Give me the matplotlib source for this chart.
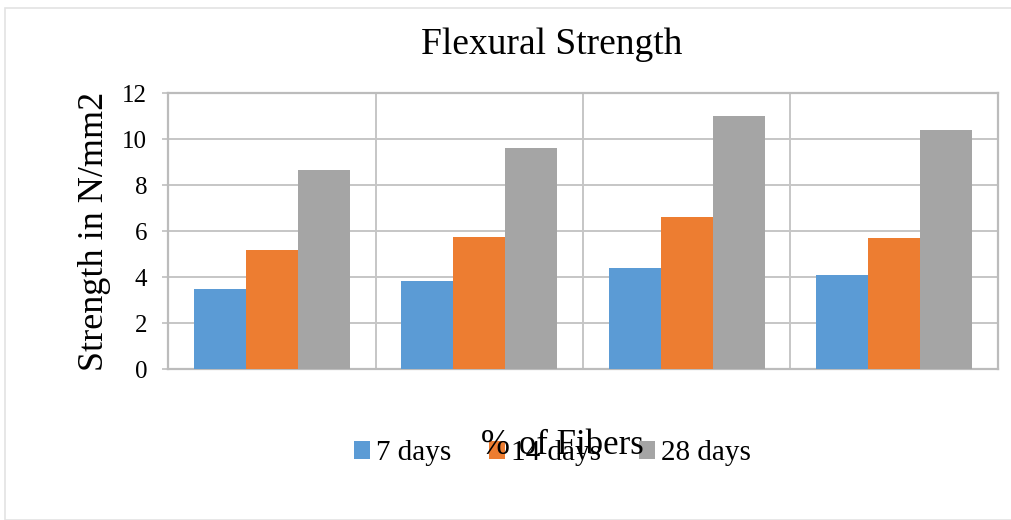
import numpy as np
import matplotlib
matplotlib.use('Agg')
import matplotlib.pyplot as plt
from matplotlib.patches import Rectangle

plt.rcParams['font.family'] = ['Liberation Serif', 'DejaVu Serif']

groups = ['0.5%', '1.0%', '1.5%', '2.0%']
series = ['7 days', '14 days', '28 days']
day7 = [3.5, 3.82, 4.37, 4.1]
day14 = [5.17, 5.75, 6.62, 5.68]
day28 = [8.67, 9.6, 10.98, 10.4]
colors = ['#5B9BD5', '#ED7D31', '#A5A5A5']
yticks = [0, 2, 4, 6, 8, 10, 12]

fig = plt.figure(figsize=(10.11, 5.2), dpi=100)
ax = fig.add_axes([168 / 1011, 1 - 369 / 520, 830 / 1011, 276 / 520])

# outer chart frame
fig.patches.append(Rectangle((5 / 1011, 0), 1.0, 1 - 8 / 520,
                             transform=fig.transFigure, fill=False,
                             edgecolor='#e3e3e3', linewidth=1.2))

x = np.arange(len(groups))
w = 0.25
for i, (vals, name) in enumerate(zip([day7, day14, day28], series)):
    ax.bar(x + (i - 1) * w, vals, width=w, color=colors[i], label=name, zorder=3)

ax.set_xlim(-0.5, len(groups) - 0.5)
ax.set_ylim(0, 12)
ax.set_yticks(yticks)
ax.set_yticklabels([str(t) for t in yticks], fontsize=18)
ax.tick_params(axis='y', length=4, width=1.2, color='#bfbfbf', pad=11)

# category separators instead of x tick labels
ax.set_xticks(x[:-1] + 0.5)
ax.set_xticklabels([])
ax.tick_params(axis='x', length=0)
ax.grid(True, color='#c6c6c6', linewidth=1.4, zorder=0)
for s in ax.spines.values():
    s.set_color('#bcbcbc')
    s.set_linewidth(1.6)

fig.text(0.5455, 0.913, 'Flexural Strength', fontsize=27, ha='center', va='center')
fig.text(0.093, 0.556, 'Strength in N/mm2', fontsize=26, rotation=90,
         ha='center', va='center')

ax.legend(loc='center', bbox_to_anchor=(0.5465, 0.128), bbox_transform=fig.transFigure,
          ncol=3, frameon=False, fontsize=21, handlelength=0.55, handleheight=0.55,
          handletextpad=0.2, columnspacing=1.3)
fig.text(0.556, 0.143, '% of Fibers', fontsize=25, ha='center', va='center')

fig.savefig('out.png', dpi=100)
